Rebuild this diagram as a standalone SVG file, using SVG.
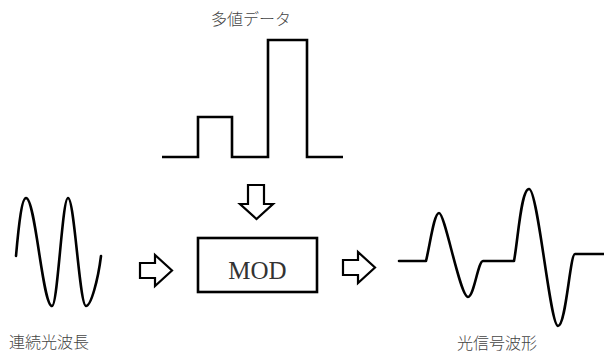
<svg xmlns="http://www.w3.org/2000/svg" width="604" height="353" viewBox="0 0 604 353">
<style>
.w{fill:none;stroke:#000;stroke-width:2.6;stroke-linejoin:miter}
.c{fill:none;stroke:#000;stroke-width:2.6;stroke-linecap:round;stroke-linejoin:round}
.a{fill:#fff;stroke:#000;stroke-width:2.2;stroke-linejoin:miter}
.t{font-family:"Noto Sans CJK JP","Noto Sans",sans-serif;font-size:16px;font-weight:300;fill:#444}
.m{font-family:"Liberation Serif",serif;font-size:25px;fill:#333}
</style>
<rect width="604" height="353" fill="#fff"/>
<g id="data">
<text class="t" x="251" y="25" text-anchor="middle">多値データ</text>
<path class="w" d="M162,157 H198 V117 H232 V157 H268 V40 H307 V157 H343"/>
</g>
<g id="cw">
<path class="c" d="M16,256 C19,222 22,198 26,198 C35.5,198 42.5,306 52,306 C57.8,306 62.2,198 68,198 C74.5,198 79.5,306 86,306 C91,306 98,280 101,256"/>
<text class="t" x="9" y="348">連続光波長</text>
</g>
<g id="mod">
<rect x="198" y="238" width="119" height="54" fill="#fff" stroke="#000" stroke-width="2.6"/>
<text class="m" x="257.5" y="279" text-anchor="middle">MOD</text>
</g>
<g id="signal">
<path class="c" d="M399,261 L426,261 C430,245 434,213 439,213 C445,213 460,297 468,297 C474,297 478,261 483,261 L514,261 C518,240 521,189 529,189 C538,189 550,326 558,326 C566,326 570,254 575,254 L604,254"/>
<text class="t" x="457" y="349">光信号波形</text>
</g>
<g id="connectors">
<path class="a" d="M248,185 H264 V204 H273 L256.5,219 L240,204 H248 Z"/>
<path class="a" d="M140,263 H155 V255 L172,270.5 L155,286 V278 H140 Z"/>
<path class="a" d="M343,260 H358 V252 L375,267.5 L358,283 V275 H343 Z"/>
</g>
</svg>
